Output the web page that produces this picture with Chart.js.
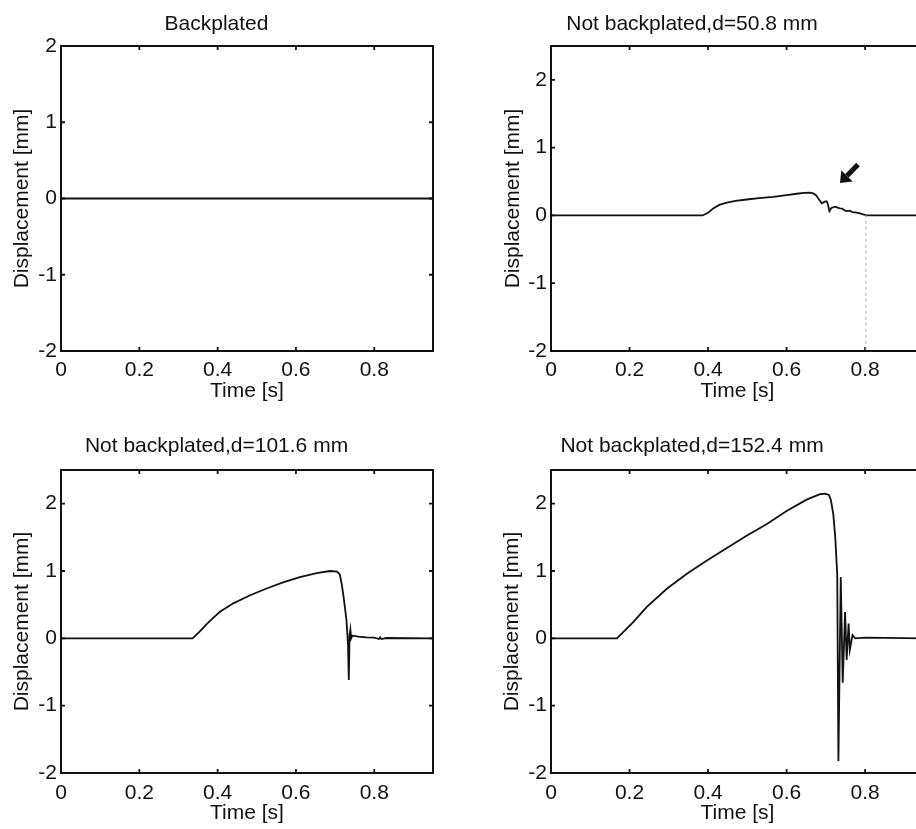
<!DOCTYPE html>
<html>
<head>
<meta charset="utf-8">
<script src="https://cdn.jsdelivr.net/npm/chart.js@4.4.1/dist/chart.umd.min.js"></script>
<style>
  html, body { margin: 0; padding: 0; background: #fff; overflow: hidden; width: 916px; height: 829px; }
  canvas { position: absolute; }
</style>
</head>
<body>
<canvas id="pBack" width="494" height="410" style="left:0;top:0"></canvas>
<canvas id="p50" width="555" height="410" style="left:460px;top:0"></canvas>
<canvas id="p101" width="494" height="419" style="left:0;top:410px"></canvas>
<canvas id="p152" width="555" height="419" style="left:460px;top:410px"></canvas>
<script>
// ─── data ────────────────────────────────────────────────────────────────────
const titles = ['Backplated', 'Not backplated,d=50.8 mm', 'Not backplated,d=101.6 mm', 'Not backplated,d=152.4 mm'];
const xTicks = [0, 0.2, 0.4, 0.6, 0.8];
const yTicks = [-2, -1, 0, 1, 2];

const tBack = [0, 0.95];
const dBack = [0, 0];

const t50 = [0, 0.386, 0.40, 0.414, 0.43, 0.448, 0.47, 0.4985, 0.53, 0.566, 0.60, 0.626, 0.645, 0.66, 0.668, 0.675,
  0.682, 0.69, 0.696, 0.702, 0.705, 0.709, 0.714, 0.724, 0.73, 0.736, 0.742, 0.748, 0.753, 0.76, 0.768, 0.778, 0.787, 0.795, 0.804, 0.95];
const d50 = [0, 0, 0.04, 0.108, 0.16, 0.19, 0.215, 0.235, 0.255, 0.275, 0.30, 0.32, 0.333, 0.335, 0.325, 0.30,
  0.24, 0.178, 0.20, 0.21, 0.17, 0.064, 0.11, 0.13, 0.115, 0.104, 0.10, 0.075, 0.064, 0.07, 0.05, 0.04, 0.03, 0.015, 0.0, 0];

const t101 = [0, 0.336, 0.354, 0.372, 0.39, 0.406, 0.44, 0.483, 0.525, 0.567, 0.61, 0.653, 0.687, 0.705, 0.712, 0.717,
  0.722, 0.729, 0.733, 0.735, 0.737, 0.739, 0.741, 0.744, 0.76, 0.78, 0.80, 0.812, 0.815, 0.818, 0.83, 0.95];
const d101 = [0, 0, 0.1, 0.21, 0.31, 0.395, 0.52, 0.64, 0.74, 0.83, 0.91, 0.97, 1.0, 0.99, 0.95, 0.8,
  0.6, 0.27, -0.1, -0.62, 0.05, 0.13, 0.0, 0.04, 0.025, 0.015, 0.01, -0.01, 0.015, -0.01, 0.005, 0];

const t152 = [0, 0.168, 0.21, 0.244, 0.295, 0.346, 0.397, 0.447, 0.498, 0.549, 0.60, 0.651, 0.685, 0.698, 0.708, 0.713,
  0.719, 0.724, 0.729, 0.732, 0.738, 0.743, 0.749, 0.753, 0.758, 0.761, 0.768, 0.775, 0.80, 0.95];
const d152 = [0, 0, 0.246, 0.467, 0.737, 0.958, 1.155, 1.337, 1.523, 1.695, 1.89, 2.06, 2.14, 2.15, 2.13, 2.05,
  1.84, 1.5, 0.95, -1.82, 0.91, -0.66, 0.39, -0.32, 0.22, -0.17, 0.05, 0.0, 0.01, 0];

// arrow and marker in the d=50.8 panel (data coords)
const arrowFrom = [0.782, 0.75];
const arrowTo = [0.736, 0.48];
const markX = 0.802;

// ─── helpers ─────────────────────────────────────────────────────────────────
const FONT = { family: '"Liberation Sans", Arial, Helvetica, sans-serif', size: 21, weight: 'normal' };
const INK = '#111';

function pts(xs, ys) { return xs.map((x, i) => ({ x, y: ys[i] })); }

/** Box frame plus MATLAB-style inward ticks on all four sides. */
const frameTicks = {
  id: 'frameTicks',
  afterDatasetsDraw(chart) {
    const { ctx, chartArea: a, scales: { x, y } } = chart;
    ctx.save();
    ctx.strokeStyle = INK;
    ctx.lineWidth = 1.8;
    ctx.beginPath();
    x.ticks.forEach(t => {
      const px = x.getPixelForValue(t.value);
      ctx.moveTo(px, a.bottom); ctx.lineTo(px, a.bottom - 4);
      ctx.moveTo(px, a.top); ctx.lineTo(px, a.top + 4);
    });
    y.ticks.forEach(t => {
      const py = y.getPixelForValue(t.value);
      ctx.moveTo(a.left, py); ctx.lineTo(a.left + 4, py);
      ctx.moveTo(a.right, py); ctx.lineTo(a.right - 4, py);
    });
    ctx.stroke();
    ctx.lineWidth = 2;
    ctx.strokeRect(a.left, a.top, a.right - a.left, a.bottom - a.top);
    ctx.restore();
  }
};

/** Arrow + dashed marker used only in the d=50.8 panel. */
const arrowMark = {
  id: 'arrowMark',
  afterDatasetsDraw(chart) {
    const { ctx, scales: { x, y } } = chart;
    const x0 = x.getPixelForValue(arrowFrom[0]), y0 = y.getPixelForValue(arrowFrom[1]);
    const x1 = x.getPixelForValue(arrowTo[0]), y1 = y.getPixelForValue(arrowTo[1]);
    const ang = Math.atan2(y1 - y0, x1 - x0);
    const hl = 10, hw = 8;
    const bx = x1 - hl * Math.cos(ang), by = y1 - hl * Math.sin(ang);
    ctx.save();
    ctx.strokeStyle = INK;
    ctx.fillStyle = INK;
    ctx.lineWidth = 5;
    ctx.beginPath(); ctx.moveTo(x0, y0); ctx.lineTo(bx, by); ctx.stroke();
    ctx.beginPath();
    ctx.moveTo(x1, y1);
    ctx.lineTo(bx + hw * Math.sin(ang), by - hw * Math.cos(ang));
    ctx.lineTo(bx - hw * Math.sin(ang), by + hw * Math.cos(ang));
    ctx.closePath(); ctx.fill();
    // thin dashed marker
    const mx = x.getPixelForValue(markX);
    ctx.strokeStyle = '#aaa';
    ctx.lineWidth = 1;
    ctx.setLineDash([3, 3]);
    ctx.beginPath();
    ctx.moveTo(mx, y.getPixelForValue(0.01));
    ctx.lineTo(mx, y.getPixelForValue(-2));
    ctx.stroke();
    ctx.restore();
  }
};

function makePlot(canvasId, title, xs, ys, o) {
  const canvas = document.getElementById(canvasId);
  return new Chart(canvas.getContext('2d'), {
    type: 'line',
    data: {
      datasets: [{
        data: pts(xs, ys), borderColor: INK, borderWidth: 1.8,
        pointRadius: 0, tension: 0, fill: false,
      }]
    },
    options: {
      responsive: false,
      animation: false,
      events: [],
      layout: { padding: { left: 0, right: o.yw, top: 0, bottom: 0 } },
      plugins: {
        legend: { display: false },
        tooltip: { enabled: false },
        title: {
          display: true, text: title, color: INK, font: FONT,
          padding: { top: o.titleTop, bottom: o.titleBottom },
        },
      },
      scales: {
        x: {
          type: 'linear', min: 0, max: 0.95,
          border: { display: false },
          grid: { display: false, drawTicks: false },
          afterBuildTicks: s => { s.ticks = xTicks.map(v => ({ value: v })); },
          afterFit: s => { s.height = o.xh; },
          ticks: {
            color: INK, font: FONT, padding: o.xPad, maxRotation: 0,
            callback: v => String(+v.toFixed(1)),
          },
          title: { display: true, text: 'Time [s]', color: INK, font: FONT, padding: { top: 0, bottom: o.xTitlePad } },
        },
        y: {
          type: 'linear', min: -2, max: o.ymax,
          border: { display: false },
          grid: { display: false, drawTicks: false },
          afterBuildTicks: s => { s.ticks = yTicks.map(v => ({ value: v })); },
          afterFit: s => { s.width = o.yw; },
          ticks: { color: INK, font: FONT, padding: 4, callback: v => String(v) },
          title: { display: true, text: 'Displacement [mm]', color: INK, font: FONT, padding: { top: o.yTitlePad, bottom: 0 } },
        },
      },
    },
    plugins: o.extra ? [frameTicks, o.extra] : [frameTicks],
  });
}

const topRow = { titleTop: 11.4, titleBottom: 9.4, xh: 59, xPad: 7, xTitlePad: 6.4 };
const botRow = { titleTop: 23.9, titleBottom: 10.9, xh: 56, xPad: 8, xTitlePad: 3.4 };

makePlot('pBack', titles[0], tBack, dBack, { ...topRow, yw: 61, yTitlePad: 9.4, ymax: 2 });
makePlot('p50', titles[1], t50, d50, { ...topRow, yw: 91, yTitlePad: 40.4, ymax: 2.5, extra: arrowMark });
makePlot('p101', titles[2], t101, d101, { ...botRow, yw: 61, yTitlePad: 9.4, ymax: 2.5 });
makePlot('p152', titles[3], t152, d152, { ...botRow, yw: 91, yTitlePad: 39.4, ymax: 2.5 });
</script>
</body>
</html>
